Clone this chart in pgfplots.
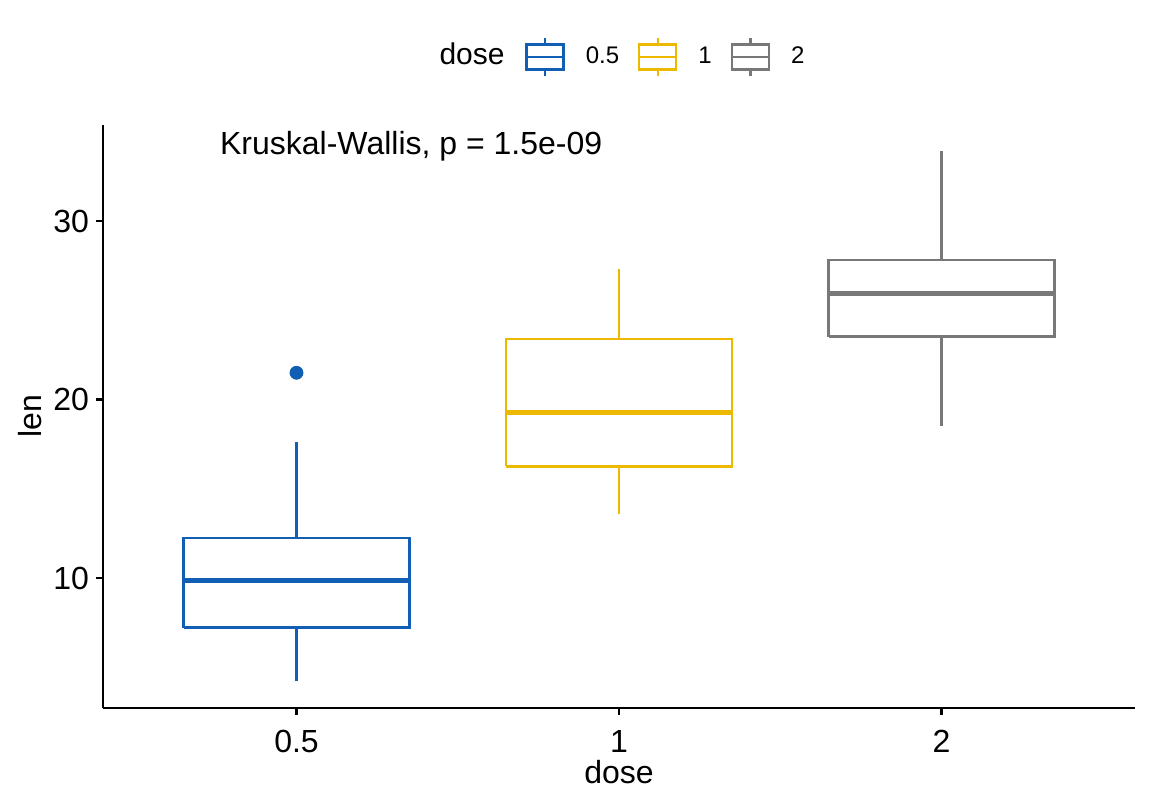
\documentclass[border=0pt]{standalone}
\usepackage{fontspec}
\setmainfont{Liberation Sans}
\usepackage{pgfplots}
\pgfplotsset{compat=1.18}

\definecolor{doseA}{RGB}{17,94,181}
\definecolor{doseB}{RGB}{236,185,0}
\definecolor{doseC}{RGB}{120,120,120}

% legend key: a small box with median line and whisker stubs
\pgfplotsset{
  boxkey/.style={
    legend image code/.code={
      \draw[##1,line width=1.15pt] (0pt,-6.25pt) rectangle (18.5pt,6.25pt);
      \draw[##1,line width=1.15pt] (0pt,0pt) -- (18.5pt,0pt);
      \draw[##1,line width=1.15pt] (9.25pt,6.25pt) -- (9.25pt,9.5pt);
      \draw[##1,line width=1.15pt] (9.25pt,-6.25pt) -- (9.25pt,-9.5pt);
    }
  },
  boxline/.style={draw=#1, line width=1.15pt, line join=miter, mark=none, forget plot},
  medline/.style={draw=#1, line width=2.5pt, mark=none, forget plot},
}

\begin{document}
\begin{tikzpicture}
\useasboundingbox (-51.5pt,-49pt) rectangle (524.5pt,354pt);
\begin{axis}[
  at={(0,0)}, anchor=south west,
  scale only axis, width=516pt, height=291.5pt,
  xmin=0.4, xmax=3.6, ymin=2.715, ymax=35.385,
  clip=false,
  axis x line*=bottom, axis y line*=left,
  axis line style={line width=1.1pt},
  xtick={1,2,3}, xticklabels={0.5,1,2},
  ytick={10,20,30},
  tick align=outside, major tick length=3.5pt,
  tick style={line width=1.1pt, black},
  /pgf/number format/assume math mode=true,
  ticklabel style={font=\fontsize{16}{18}\selectfont},
  xticklabel style={yshift=-4pt},
  label style={font=\fontsize{16}{18}\selectfont},
  xlabel={dose}, ylabel={len},
  xlabel style={at={(axis description cs:0.5,-0.1098)}, anchor=center},
  ylabel style={at={(axis description cs:-0.0707,0.5)}, anchor=center},
  legend columns=3,
  legend style={
    at={(axis description cs:0.4090,1.1166)}, anchor=west,
    draw=none, fill=none, inner sep=0pt,
    font=\fontsize{12}{14}\selectfont,
    /tikz/every odd column/.append style={column sep=8.5pt},
    /tikz/every even column/.append style={column sep=7.5pt},
  },
  legend cell align=left,
]

% dose 0.5: Q1 7.225, median 9.85, Q3 12.25, whiskers 4.2 / 17.6, outlier 21.5
\addplot[boxline=doseA] coordinates {(0.65,7.225) (1.35,7.225) (1.35,12.25) (0.65,12.25) (0.65,7.225)};
\addplot[medline=doseA] coordinates {(0.65,9.85) (1.35,9.85)};
\addplot[boxline=doseA] coordinates {(1,12.25) (1,17.6)};
\addplot[boxline=doseA] coordinates {(1,7.225) (1,4.2)};
\addplot[only marks, mark=*, mark size=3.25pt, doseA, forget plot] coordinates {(1,21.5)};

% dose 1: Q1 16.25, median 19.25, Q3 23.375, whiskers 13.6 / 27.3
\addplot[boxline=doseB] coordinates {(1.65,16.25) (2.35,16.25) (2.35,23.375) (1.65,23.375) (1.65,16.25)};
\addplot[medline=doseB] coordinates {(1.65,19.25) (2.35,19.25)};
\addplot[boxline=doseB] coordinates {(2,23.375) (2,27.3)};
\addplot[boxline=doseB] coordinates {(2,16.25) (2,13.6)};

% dose 2: Q1 23.525, median 25.95, Q3 27.825, whiskers 18.5 / 33.9
\addplot[boxline=doseC] coordinates {(2.65,23.525) (3.35,23.525) (3.35,27.825) (2.65,27.825) (2.65,23.525)};
\addplot[medline=doseC] coordinates {(2.65,25.95) (3.35,25.95)};
\addplot[boxline=doseC] coordinates {(3,27.825) (3,33.9)};
\addplot[boxline=doseC] coordinates {(3,23.525) (3,18.5)};

\addlegendimage{boxkey, doseA}\addlegendentry{0.5}
\addlegendimage{boxkey, doseB}\addlegendentry{1}
\addlegendimage{boxkey, doseC}\addlegendentry{2}

\node[anchor=west, inner sep=0pt, font=\fontsize{16}{18}\selectfont]
  at (axis cs:0.762,34.2) {Kruskal-Wallis, p = 1.5e-09};
\node[anchor=base east, inner sep=0pt, font=\fontsize{15}{17}\selectfont]
  at (axis description cs:0.3895,1.1029) {dose};
\end{axis}
\end{tikzpicture}
\end{document}
